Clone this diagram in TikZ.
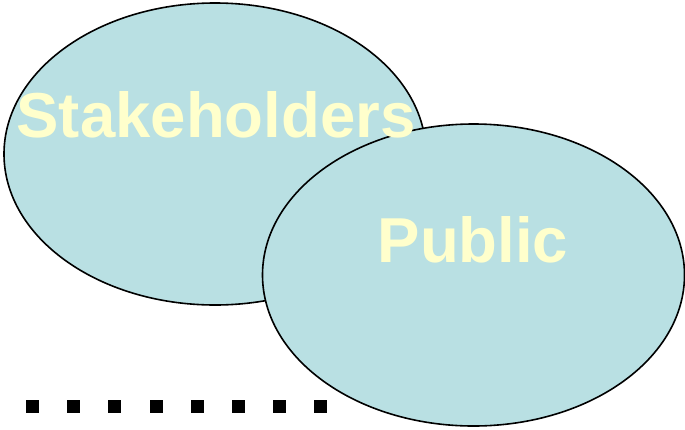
\documentclass[tikz,border=0pt]{standalone}
\usepackage{fontspec}
\usetikzlibrary{shapes.geometric}
\newfontfamily\labelfont{Liberation Sans}
\definecolor{ovalblue}{HTML}{B9E0E3}
\definecolor{textyellow}{HTML}{FFFFCC}

\tikzset{
	oval/.style={ellipse, draw=black, line width=1.6pt, fill=ovalblue,
		minimum width=422pt, minimum height=302pt, inner sep=0pt},
	ovaltext/.style={anchor=base, inner sep=0pt, text=textyellow,
		font=\labelfont\bfseries\fontsize{63.5}{63.5}\selectfont}
}

\begin{document}
\begin{tikzpicture}[x=1pt, y=-1pt]
		\useasboundingbox (0,0) rectangle (685,429);
		\node [oval] (stake) at (215,154) {};
		\node [oval] (public) at (473.5,275) {};

		\node [ovaltext] (stakelabel) at (216,137) {Stakeholders};
		\node [ovaltext] (publiclabel) at (473,262) {Public};

		% row of dots
		\foreach \i in {0,...,7}
			\fill (26+41.2*\i,400) rectangle ++(13,13);
	\end{tikzpicture}
\end{document}
